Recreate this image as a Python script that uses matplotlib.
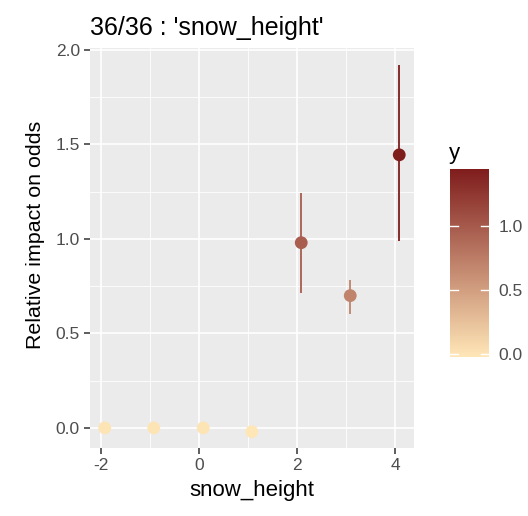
import numpy as np
import matplotlib
matplotlib.use("Agg")
import matplotlib.pyplot as plt
from matplotlib.colors import LinearSegmentedColormap, Normalize
from matplotlib.ticker import MultipleLocator, FormatStrFormatter

plt.rcParams["font.family"] = ["Liberation Sans", "DejaVu Sans"]
plt.rcParams["axes.unicode_minus"] = False

# relative impact per snow_height level, with interval ends (no interval -> same as estimate)
snow_height = [-1.93, -0.93, 0.08, 1.07, 2.08, 3.08, 4.08]
impact = [0.0, 0.0, 0.0, -0.02, 0.98, 0.70, 1.445]
lower = [0.0, 0.0, 0.0, -0.02, 0.715, 0.605, 0.99]
upper = [0.0, 0.0, 0.0, -0.02, 1.245, 0.78, 1.92]

color_ticks = [0.0, 0.5, 1.0]

GREY_BG = "#EBEBEB"
TXT = "#4D4D4D"

cmap = LinearSegmentedColormap.from_list("cream_red", ["#FFE6B7", "#7F1D1D"])
norm = Normalize(vmin=min(impact), vmax=max(impact))

fig = plt.figure(figsize=(5.28, 5.16), dpi=100)
ax = fig.add_axes([0.1705, 0.1312, 0.6135, 0.7764])
ax.set_facecolor(GREY_BG)
for s in ax.spines.values():
    s.set_visible(False)

# error bars then points on top
ax.vlines(snow_height, lower, upper, colors=cmap(norm(np.array(impact))), linewidth=1.3, zorder=3)
sc = ax.scatter(snow_height, impact, c=impact, cmap=cmap, norm=norm, s=85,
                linewidths=0, zorder=4)

ax.set_xlim(-2.23, 4.38)
ax.set_ylim(-0.108, 2.012)
ax.xaxis.set_major_locator(MultipleLocator(2))
ax.xaxis.set_minor_locator(MultipleLocator(1))
ax.yaxis.set_major_locator(MultipleLocator(0.5))
ax.yaxis.set_minor_locator(MultipleLocator(0.25))
ax.grid(which="major", color="white", linewidth=1.2)
ax.grid(which="minor", color="white", linewidth=0.6)
ax.set_axisbelow(True)
ax.yaxis.set_major_formatter(FormatStrFormatter("%.1f"))
ax.tick_params(which="major", length=4.3, width=1.1, color="#333333", labelcolor=TXT,
               labelsize=12.5, pad=3)
ax.tick_params(which="minor", length=0)

ax.set_xlabel("snow_height", fontsize=16, color="black", labelpad=5)
ax.set_ylabel("Relative impact on odds", fontsize=15.4, color="black")
ax.yaxis.set_label_coords(-0.139, 0.532)
ax.set_title("36/36 : 'snow_height'", fontsize=18, loc="left", pad=9)

# colour legend
cax = fig.add_axes([0.853, 0.3086, 0.073, 0.3633])
cb = fig.colorbar(sc, cax=cax)
cb.outline.set_visible(False)
cb.set_ticks(color_ticks)
cb.set_ticklabels([f"{t:.1f}" for t in color_ticks])
cax.tick_params(length=0, labelsize=12.5, labelcolor=TXT, pad=7)
for t in color_ticks:
    cax.plot([0, 0.2], [t, t], color="white", linewidth=1, transform=cax.get_yaxis_transform())
    cax.plot([0.8, 1.0], [t, t], color="white", linewidth=1, transform=cax.get_yaxis_transform())
fig.text(0.851, 0.683, "y", fontsize=16, ha="left", va="bottom")

fig.savefig("out.png", dpi=100)
